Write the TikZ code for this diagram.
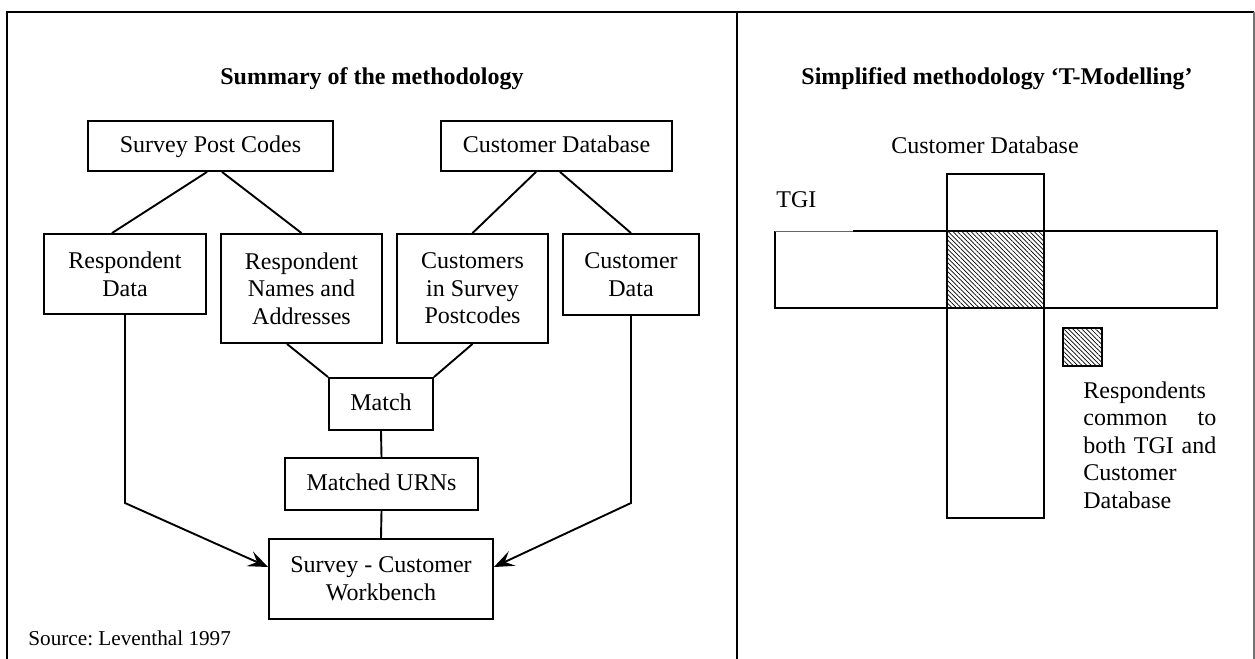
\documentclass[tikz,border=0pt]{standalone}
\usepackage{fontspec}
\setmainfont{Liberation Serif}
\usetikzlibrary{arrows.meta,patterns.meta}

\begin{document}
\begin{tikzpicture}[x=0.5pt,y=-0.5pt,
    box/.style={draw, line width=0.95pt, align=center, inner sep=0pt,
      font=\fontsize{12}{13.8}\selectfont},
    single/.style={text height=8.5pt, text depth=2.5pt},
    plain/.style={font=\fontsize{12}{13.8}\selectfont},
    link/.style={line width=0.95pt},
    arrow/.style={link, -{Stealth[length=10pt,width=8pt,inset=4pt]}},
    frame/.style={line width=1pt},
    hatch/.style={pattern={Lines[angle=-45,distance=1.6pt,line width=0.35pt]}}]
  \useasboundingbox (0,0) rectangle (1255,659);
  \def\keywidth{66.5pt}

  % frame
  \draw[frame] (7,659) -- (7,12) -- (1254,12);
  \draw[frame] (737,12) -- (737,659);
  \draw[line width=0.7pt, black!55] (1254,12) -- (1254,659);

  \node[plain, font=\bfseries\fontsize{12}{13.8}\selectfont] (title left)
    at (372,79) {Summary of the methodology};
  \node[plain, font=\bfseries\fontsize{12}{13.8}\selectfont] (title right)
    at (997,79) {Simplified methodology `T-Modelling'};

  % left: methodology
  \node[box, single, minimum width=122.5pt, minimum height=25pt] (spc)
    at (210.5,146) {Survey Post Codes};
  \node[box, single, minimum width=115.5pt, minimum height=25pt] (cdb)
    at (556.5,146) {Customer Database};
  \node[box, minimum width=81pt, minimum height=40pt] (rd)
    at (125,274) {Respondent\\Data};
  \node[box, minimum width=80.5pt, minimum height=54.5pt] (rna)
    at (301.5,288.5) {Respondent\\Names and\\Addresses};
  \node[box, minimum width=75.5pt, minimum height=54.5pt] (csp)
    at (472.5,288.5) {Customers\\in Survey\\Postcodes};
  \node[box, minimum width=68pt, minimum height=40.5pt] (cd)
    at (631,274.5) {Customer\\Data};
  \node[box, single, minimum width=52pt, minimum height=26pt] (match)
    at (381,404) {Match};
  \node[box, single, minimum width=96.5pt, minimum height=26pt] (urn)
    at (381.5,484) {Matched URNs};
  \node[box, minimum width=112pt, minimum height=40pt] (wb)
    at (381,579) {Survey - Customer\\Workbench};

  \draw[link] ([xshift=-1.75pt]spc.south) -- ([xshift=-6.5pt]rd.north);
  \draw[link] ([xshift=5.75pt]spc.south) -- (rna.north);
  \draw[link] ([xshift=-10.25pt]cdb.south) -- (csp.north);
  \draw[link] ([xshift=1.75pt]cdb.south) -- (cd.north);
  \draw[link] ([xshift=-7.25pt]rna.south) -- (match.north west);
  \draw[link] (csp.south) -- (match.north east);
  \draw[link] (match.south) -- (urn.north);
  \draw[link] (urn.south) -- (wb.north);
  \coordinate (bend) at (0,503);
  \draw[arrow] (rd.south) -- (rd.south |- bend) -- ([yshift=6pt]wb.west);
  \draw[arrow] (cd.south) -- (cd.south |- bend) -- ([yshift=6pt]wb.east);

  \node[plain, anchor=base west, inner sep=0pt, font=\fontsize{10.6}{12.5}\selectfont]
    (source) at (28,645) {Source:\ Leventhal 1997};

  % right: T-Modelling
  \node[plain] (cdb label) at (985,145) {Customer Database};
  \node[plain, anchor=west, inner sep=0pt] (tgi label) at (776,200) {TGI};
  \fill[hatch] (947,231) rectangle (1044,308);
  \draw[link] (947,174) rectangle (1044,518);
  \draw[link] (853,231) -- (1217,231) -- (1217,308) -- (775,308) -- (775,231);
  \draw[line width=0.45pt, black!60] (775,231) -- (853,231);
  \draw[link, hatch] (1063,328) rectangle (1102,366);
  \node[plain, anchor=north west, inner sep=0pt, text width=\keywidth,
    align=left] (key text) at (1083,381)
    {Respondents\\ \makebox[\keywidth][l]{common\hfill to}\\
     \makebox[\keywidth][l]{both\hfill TGI\hfill and}\\ Customer\\ Database};
\end{tikzpicture}
\end{document}
